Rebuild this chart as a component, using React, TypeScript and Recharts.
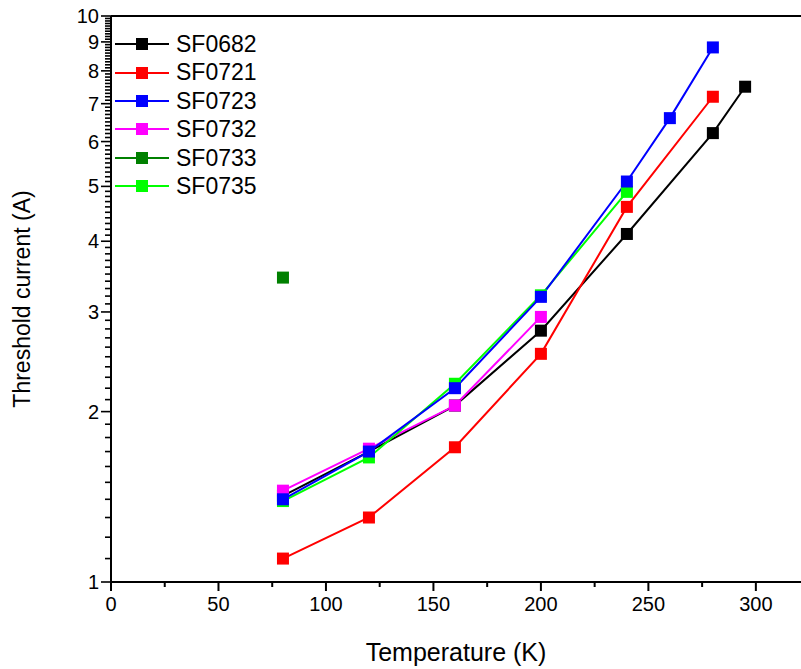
import { LineChart, Line, XAxis, YAxis, Legend, ReferenceLine } from "recharts";

// temperatures (K) and threshold currents (A)
const tempsSF0682 = [80, 120, 160, 200, 240, 280, 295];
const currentSF0682 = [1.42, 1.7, 2.05, 2.78, 4.12, 6.21, 7.5];

const tempsSF0721 = [80, 120, 160, 200, 240, 280];
const currentSF0721 = [1.1, 1.3, 1.73, 2.53, 4.6, 7.2];

const tempsSF0723 = [80, 120, 160, 200, 240, 260, 280];
const currentSF0723 = [1.4, 1.7, 2.2, 3.19, 5.1, 6.6, 8.8];

const tempsSF0732 = [80, 120, 160, 200];
const currentSF0732 = [1.45, 1.72, 2.05, 2.94];

const tempsSF0733 = [80];
const currentSF0733 = [3.45];

const tempsSF0735 = [80, 120, 160, 200, 240];
const currentSF0735 = [1.39, 1.66, 2.24, 3.21, 4.89];

const X_MAJOR = [0, 50, 100, 150, 200, 250, 300];
const X_TICKS = [0, 25, 50, 75, 100, 125, 150, 175, 200, 225, 250, 275, 300];
const Y_MAJOR = [1, 2, 3, 4, 5, 6, 7, 8, 9, 10];

// minor ticks every 0.1 between the integer majors
const Y_TICKS: number[] = [];
Y_MAJOR.forEach((m) => {
  if (m === 10) {
    Y_TICKS.push(10);
    return;
  }
  for (let k = 0; k < 10; k++) Y_TICKS.push(Math.round((m + k / 10) * 10) / 10);
});

const zip = (t: number[], v: number[]) => t.map((x, i) => ({ t: x, v: v[i] }));

const SERIES = [
  { name: "SF0682", color: "#000000", data: zip(tempsSF0682, currentSF0682) },
  { name: "SF0721", color: "#ff0000", data: zip(tempsSF0721, currentSF0721) },
  { name: "SF0723", color: "#0000ff", data: zip(tempsSF0723, currentSF0723) },
  { name: "SF0732", color: "#ff00ff", data: zip(tempsSF0732, currentSF0732) },
  { name: "SF0733", color: "#008000", data: zip(tempsSF0733, currentSF0733) },
  { name: "SF0735", color: "#00ff00", data: zip(tempsSF0735, currentSF0735) },
];

// draw order: blue last so it sits on top like the original
const DRAW_ORDER = ["SF0682", "SF0721", "SF0732", "SF0733", "SF0735", "SF0723"];

const FONT = "Arial, 'Liberation Sans', sans-serif";

const SquareDot = (color: string) => (props: any) => {
  const { cx, cy, index } = props;
  if (cx == null || cy == null) return <g key={index} />;
  return <rect key={index} x={cx - 6} y={cy - 6} width={12} height={12} fill={color} />;
};

function YTick(props: any) {
  const { x, y, payload } = props;
  const major = Y_MAJOR.includes(payload.value);
  const len = major ? 10 : 6;
  return (
    <g>
      <line x1={x} x2={x - len} y1={y} y2={y} stroke="#000" strokeWidth={1.6} />
      {major && (
        <text x={x - 12} y={y} dy="0.35em" textAnchor="end" fontSize={20} fontFamily={FONT} fill="#000">
          {payload.value}
        </text>
      )}
    </g>
  );
}

function XTick(props: any) {
  const { x, y, payload } = props;
  const major = X_MAJOR.includes(payload.value);
  const len = major ? 9 : 5;
  return (
    <g>
      <line x1={x} x2={x} y1={y} y2={y + len} stroke="#000" strokeWidth={2} />
      {major && (
        <text x={x} y={y + 15} dy="0.71em" textAnchor="middle" fontSize={20} fontFamily={FONT} fill="#000">
          {payload.value}
        </text>
      )}
    </g>
  );
}

function LegendBox() {
  return (
    <div style={{ fontFamily: FONT, fontSize: 23, lineHeight: "28.4px" }}>
      {SERIES.map((s) => (
        <div key={s.name} style={{ display: "flex", alignItems: "center", height: 28.4 }}>
          <svg width={56} height={14} style={{ marginRight: 5 }}>
            <line x1={0} x2={54} y1={7} y2={7} stroke={s.color} strokeWidth={2} />
            <rect x={21} y={1} width={12} height={12} fill={s.color} />
          </svg>
          <span style={{ color: "#000" }}>{s.name}</span>
        </div>
      ))}
    </div>
  );
}

export default function App() {
  const ordered = DRAW_ORDER.map((n) => SERIES.find((s) => s.name === n)!);
  return (
    <div style={{ position: "absolute", left: 0, top: 0, background: "#fff" }}>
      <LineChart width={801} height={669} margin={{ top: 16, right: 0, bottom: 0, left: 0 }}>
        <XAxis
          dataKey="t"
          type="number"
          domain={[0, 321]}
          ticks={X_TICKS}
          interval={0}
          tickSize={0}
          tickMargin={0}
          height={87}
          allowDataOverflow
          axisLine={{ stroke: "#000", strokeWidth: 2 }}
          tickLine={false}
          tick={(p: any) => <XTick {...p} />}
          label={{
            value: "Temperature (K)",
            position: "insideBottom",
            offset: 8,
            style: { fontSize: 25, fontFamily: FONT, fill: "#000" },
          }}
        />
        <YAxis
          dataKey="v"
          scale="log"
          domain={[1, 10]}
          ticks={Y_TICKS}
          interval={0}
          tickSize={0}
          tickMargin={0}
          width={111}
          allowDataOverflow
          axisLine={{ stroke: "#000", strokeWidth: 2 }}
          tickLine={false}
          tick={(p: any) => <YTick {...p} />}
          label={{
            value: "Threshold current (A)",
            angle: -90,
            position: "insideLeft",
            offset: 22,
            style: { fontSize: 23, fontFamily: FONT, fill: "#000", textAnchor: "middle" },
          }}
        />
        <ReferenceLine y={10} stroke="#000" strokeWidth={2} />
        <Legend
          layout="vertical"
          align="center"
          verticalAlign="middle"
          wrapperStyle={{ left: 115, top: 30, width: "auto" }}
          content={() => <LegendBox />}
        />
        {ordered.map((s) => (
          <Line
            key={s.name}
            data={s.data}
            dataKey="v"
            name={s.name}
            type="linear"
            stroke={s.color}
            strokeWidth={2}
            dot={SquareDot(s.color)}
            activeDot={false}
            isAnimationActive={false}
          />
        ))}
      </LineChart>
    </div>
  );
}
